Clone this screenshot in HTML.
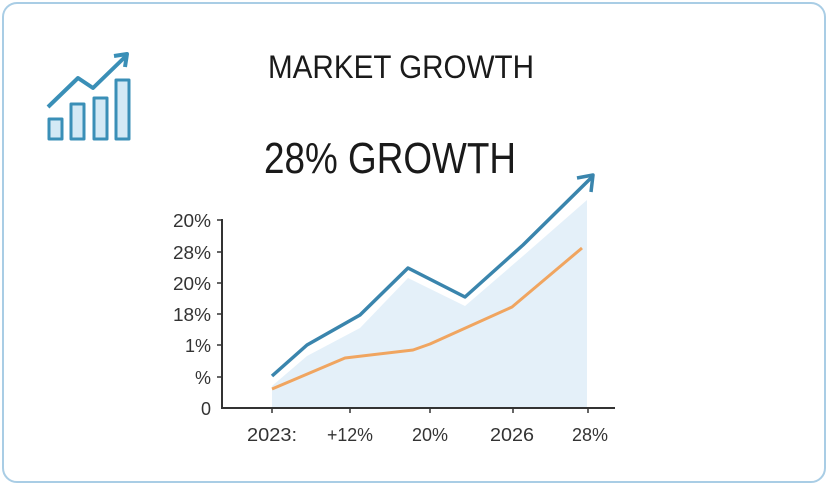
<!DOCTYPE html>
<html><head><style>
body{margin:0;background:#fff;}
svg{display:block;font-family:"Liberation Sans",sans-serif;}
</style></head><body>
<svg width="829" height="486" viewBox="0 0 829 486">
<rect x="3" y="3" width="822" height="479" rx="14" fill="#fff" stroke="#a9cde5" stroke-width="2"/>
<!-- icon -->
<g stroke="#3a8fb7" stroke-width="3" fill="#d3e9f5" stroke-linejoin="round">
<rect x="49" y="119" width="13" height="20"/>
<rect x="71" y="104" width="13" height="35"/>
<rect x="94" y="98" width="13" height="41"/>
<rect x="116" y="80" width="13" height="59"/>
<polyline points="48,107 78,78 93,88 126,56" fill="none" stroke-width="4"/>
<polyline points="114,56 127,54 125,67" fill="none" stroke-width="4"/>
</g>
<text x="401" y="78" font-size="32" text-anchor="middle" fill="#1a1a1a" textLength="266" lengthAdjust="spacingAndGlyphs">MARKET GROWTH</text>
<text x="390" y="173" font-size="44" text-anchor="middle" fill="#1a1a1a" textLength="252" lengthAdjust="spacingAndGlyphs">28% GROWTH</text>
<!-- fill -->
<polygon points="272,386 307,356 360,328 408,278 465,306 523,256 587,200 587,408 272,408" fill="#e4f0f9"/>
<!-- axes -->
<g stroke="#333" stroke-width="2" fill="none">
<line x1="222" y1="219" x2="222" y2="409"/>
<line x1="221" y1="408" x2="615" y2="408"/>
</g>
<g stroke="#333" stroke-width="1.5">
<line x1="217" y1="220" x2="222" y2="220"/><line x1="217" y1="252" x2="222" y2="252"/>
<line x1="217" y1="283" x2="222" y2="283"/><line x1="217" y1="314" x2="222" y2="314"/>
<line x1="217" y1="345" x2="222" y2="345"/><line x1="217" y1="377" x2="222" y2="377"/>
<line x1="272" y1="408" x2="272" y2="413"/><line x1="350" y1="408" x2="350" y2="413"/>
<line x1="430" y1="408" x2="430" y2="413"/><line x1="513" y1="408" x2="513" y2="413"/>
<line x1="588" y1="408" x2="588" y2="413"/>
</g>
<g font-size="18" fill="#333" text-anchor="end">
<text x="211" y="227" textLength="38" lengthAdjust="spacingAndGlyphs">20%</text><text x="211" y="259" textLength="38" lengthAdjust="spacingAndGlyphs">28%</text>
<text x="211" y="290" textLength="38" lengthAdjust="spacingAndGlyphs">20%</text><text x="211" y="321" textLength="38" lengthAdjust="spacingAndGlyphs">18%</text>
<text x="211" y="352">1%</text><text x="211" y="384">%</text>
<text x="211" y="415">0</text>
</g>
<g font-size="18" fill="#333" text-anchor="middle">
<text x="272" y="441" textLength="50" lengthAdjust="spacingAndGlyphs">2023:</text><text x="350" y="441" textLength="46" lengthAdjust="spacingAndGlyphs">+12%</text>
<text x="430" y="441" textLength="36" lengthAdjust="spacingAndGlyphs">20%</text><text x="512" y="441" textLength="44" lengthAdjust="spacingAndGlyphs">2026</text>
<text x="590" y="441" textLength="36" lengthAdjust="spacingAndGlyphs">28%</text>
</g>
<polyline points="272,389 345,358 413,350 430,344 512,307 582,248" fill="none" stroke="#f0a560" stroke-width="3" stroke-linejoin="round"/>
<polyline points="272,376 307,345 360,315 408,268 465,297 523,245 592,177" fill="none" stroke="#3a85ad" stroke-width="3.5" stroke-linejoin="round"/>
<polyline points="577,178 593,175 591,192" fill="none" stroke="#3a85ad" stroke-width="3.5" stroke-linejoin="round"/>
</svg>
</body></html>
